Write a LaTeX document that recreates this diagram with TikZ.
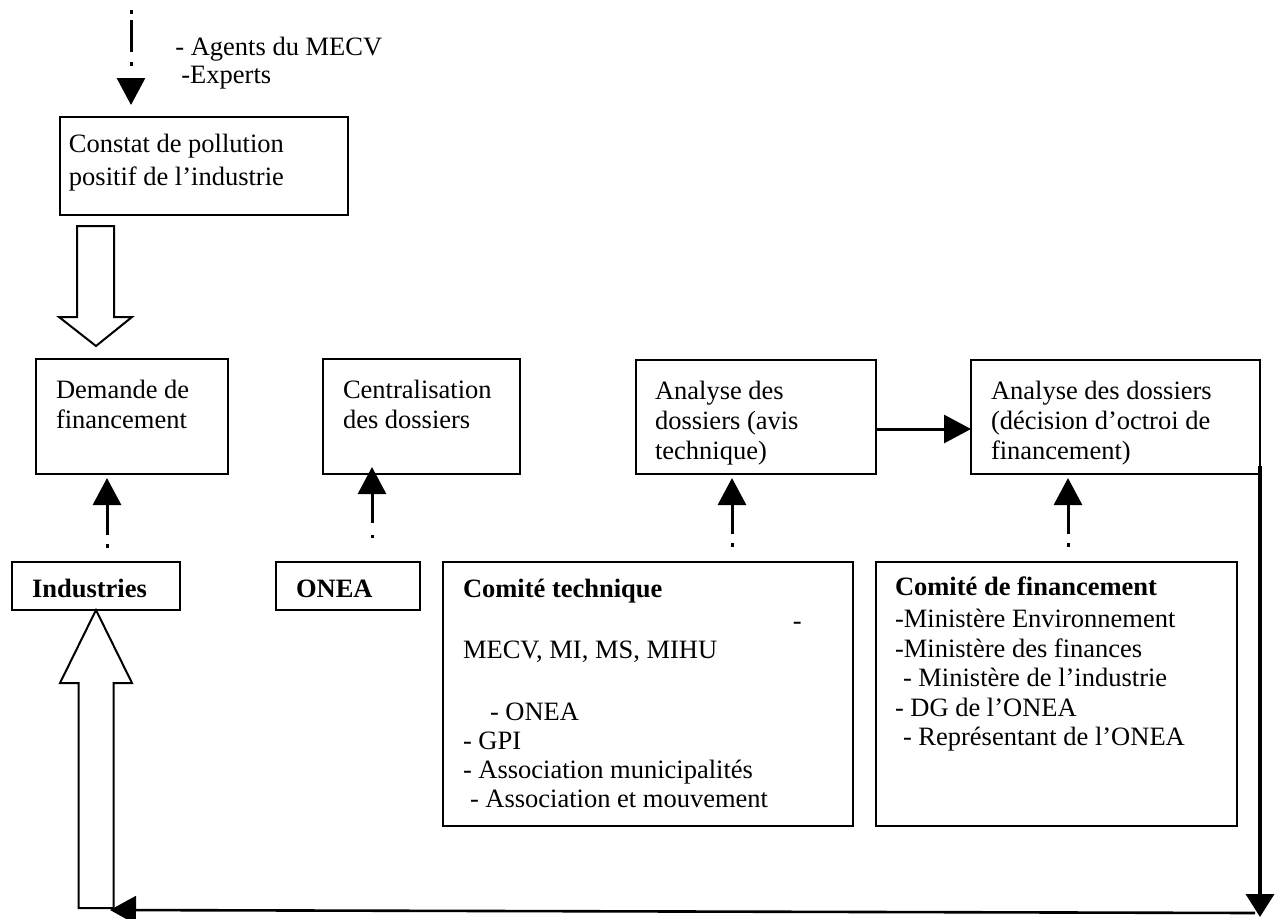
\documentclass[tikz,border=0pt]{standalone}
\usepackage{fontspec}
\setmainfont{Liberation Serif}
\usetikzlibrary{arrows.meta,calc}
\newcommand\btxt[5]{\parbox[c][#2][t]{#1}{\raggedright\leftskip=#3\relax\rule{0pt}{#4}#5}}
\begin{document}
\begin{tikzpicture}[x=0.5pt,y=-0.5pt,
  box/.style={draw, line width=1pt, inner sep=0pt, outer sep=0pt, anchor=north west,
    font=\rmfamily\fontsize{13.25pt}{15pt}\selectfont},
  txt/.style={inner sep=0pt, anchor=base west, font=\rmfamily\fontsize{13.25pt}{15pt}\selectfont},
  dd/.style={line width=1.5pt, -{Triangle[length=13.5pt,width=14pt]}},
  solidarr/.style={line width=1.5pt, -{Triangle[length=13.5pt,width=14pt]}},
  blk/.style={line width=1pt, line join=miter},
  loopv/.style={line width=1.8pt, -{Triangle[length=11.5pt,width=14pt]}},
  looph/.style={line width=1.3pt, -{Triangle[length=13pt,width=14pt]}}
]
\useasboundingbox (0,0) rectangle (1282,918);

% boxes
\node[box] (con) at (60,117) {\btxt{144pt}{49pt}{4.5pt}{17.5pt}{\baselineskip=16.5pt Constat de pollution\\positif de l’industrie}};
\node[box] (dem) at (36,359) {\btxt{96pt}{57.5pt}{10pt}{19.5pt}{Demande de\\financement}};
\node[box] (cen) at (323,359) {\btxt{98.5pt}{57.5pt}{10pt}{19.5pt}{Centralisation\\des dossiers}};
\node[box] (a1) at (636,360) {\btxt{120pt}{57pt}{9.5pt}{19.5pt}{Analyse des\\dossiers (avis\\technique)}};
\node[box] (a2) at (971,360) {\btxt{144.5pt}{57pt}{10pt}{19.5pt}{Analyse des dossiers\\(décision d’octroi de\\financement)}};
\node[box] (ind) at (12,562) {\btxt{84pt}{24pt}{10pt}{17.5pt}{\textbf{Industries}}};
\node[box] (onea) at (276,562) {\btxt{72pt}{24pt}{10pt}{17.5pt}{\textbf{ONEA}}};
\node[box] (ct) at (443,562) {\btxt{205pt}{132pt}{10pt}{17.5pt}{\baselineskip=14.5pt
  \textbf{Comité technique}\\[1.5pt]
  \hspace*{165pt}-\\
  MECV, MI, MS, MIHU\\
  \mbox{}\\[2pt]
  \hspace*{13.5pt}- ONEA\\
  - GPI\\
  - Association municipalités\\
  \hspace*{3.5pt}- Association et mouvement}};
\node[box] (cf) at (876,562) {\btxt{180.5pt}{132pt}{9.5pt}{16.5pt}{\baselineskip=14.75pt
  \textbf{Comité de financement}\\[1.5pt]
  -Ministère Environnement\\
  -Ministère des finances\\
  \hspace*{4pt}- Ministère de l’industrie\\
  - DG de l’ONEA\\
  \hspace*{4pt}- Représentant de l’ONEA}};

% top labels
\node[txt] (agents) at (175,55) {- Agents du MECV};
\node[txt] (experts) at (181,83) {-Experts};

% helper coordinates
\coordinate (xA) at (131,0);
\coordinate (xB) at (107,0);
\coordinate (xC) at (372,0);
\coordinate (xD) at (732,0);
\coordinate (xE) at (1068,0);
\coordinate (yC) at (0,429);
\coordinate (yD) at (0,466);
\coordinate (yF) at (0,917);
\coordinate (topstart) at (131,10);
\coordinate (corner) at (a2.east |- yF);
\coordinate (loopR) at (1255,913);
\coordinate (loopL) at (110,910);

% dash-dot arrows
\draw[dd, dash pattern=on 2pt off 3pt on 16pt off 5pt on 2pt off 30pt, shorten >=6pt]
  (topstart) -- (con.north -| xA);
\draw[dd, dash pattern=on 2pt off 4.5pt on 16pt off 30pt, shorten <=7pt, shorten >=2pt]
  (ind.north -| xB) -- (dem.south -| xB);
\draw[dd, dash pattern=on 1.5pt off 6pt on 20pt off 30pt, shorten <=12pt, shorten >=-3.5pt]
  (onea.north -| xC) -- (cen.south -| xC);
\draw[dd, dash pattern=on 2pt off 4.5pt on 16pt off 30pt, shorten <=7.5pt, shorten >=2pt]
  (ct.north -| xD) -- (a1.south -| xD);
\draw[dd, dash pattern=on 2pt off 4.5pt on 16pt off 30pt, shorten <=7.5pt, shorten >=2pt]
  (cf.north -| xE) -- (a2.south -| xE);

% solid arrow between analyses
\draw[solidarr] (a1.east |- yC) -- (a2.west |- yC);

% return loop
\draw[loopv] (a2.east |- yD) -- (corner);
\draw[looph] (loopR) -- (loopL);

% block arrows
\coordinate (b1tip) at (96,346);
\draw[blk] (b1tip) -- ++(36,-29) -- ++(-18,0) -- ++(0,-91) -- ++(-37,0) -- ++(0,91) -- ++(-18,0) -- cycle;
\path (ind.south -| b1tip) coordinate (b2tip);
\draw[blk] (b2tip) -- ++(36,73) -- ++(-18.5,0) -- ++(0,225) -- ++(-35,0) -- ++(0,-225) -- ++(-18.5,0) -- cycle;
\end{tikzpicture}
\end{document}
